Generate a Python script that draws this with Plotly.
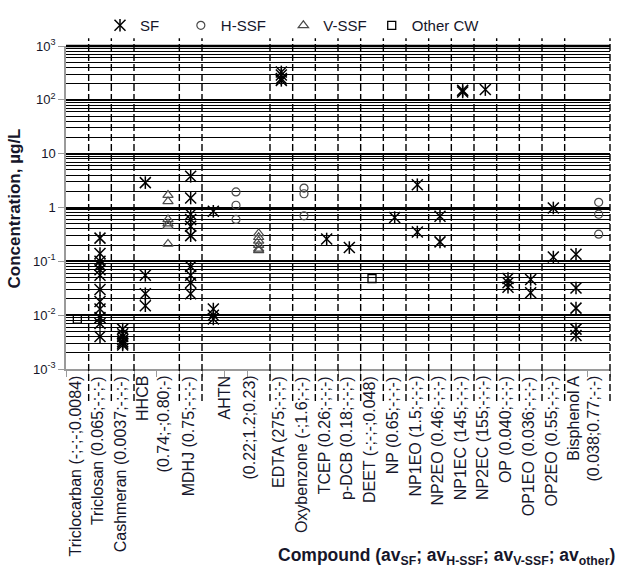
import plotly.graph_objects as go

# Compounds along the x axis, in display order
compounds = ["Triclocarban", "Triclosan", "Cashmeran", "HHCB", "MDHJ", "AHTN",
             "EDTA", "Oxybenzone", "TCEP", "p-DCB", "DEET", "NP", "NP1EO", "NP2EO",
             "NP1EC", "NP2EC", "OP", "OP1EO", "OP2EO", "Bisphenol A"]

# Axis label text for each compound: name and averages (SF; H-SSF; V-SSF; other)
label_lines = [
    ["Triclocarban (-;-;-;0.0084)"],
    ["Triclosan (0.065;-;-;-)"],
    ["Cashmeran (0.0037;-;-;-)"],
    ["HHCB", "(0.74;-;0.80;-)"],
    ["MDHJ (0.75;-;-;-)"],
    ["AHTN", "(0.22;1.2;0.23)"],
    ["EDTA (275;-;-;-)"],
    ["Oxybenzone (-;1.6;-;-)"],
    ["TCEP (0.26;-;-;-)"],
    ["p-DCB (0.18;-;-;-)"],
    ["DEET (-;-;-;0.048)"],
    ["NP (0.65;-;-;-)"],
    ["NP1EO (1.5;-;-;-)"],
    ["NP2EO (0.46;-;-;-)"],
    ["NP1EC (145;-;-;-)"],
    ["NP2EC (155;-;-;-)"],
    ["OP (0.040;-;-;-)"],
    ["OP1EO (0.036;-;-;-)"],
    ["OP2EO (0.55;-;-;-)"],
    ["Bisphenol A", "(0.038;0.77;-;-)"],
]

# Surface flow wetlands (µg/L)
sf_compound = (["Triclosan"] * 12 + ["Cashmeran"] * 7 + ["HHCB"] * 4 + ["MDHJ"] * 10
               + ["AHTN"] * 4 + ["EDTA"] * 4 + ["TCEP", "p-DCB", "NP"]
               + ["NP1EO"] * 2 + ["NP2EO"] * 2 + ["NP1EC"] * 2 + ["NP2EC"]
               + ["OP"] * 3 + ["OP1EO"] * 2 + ["OP2EO"] * 2 + ["Bisphenol A"] * 5)
sf_conc = ([0.27, 0.14, 0.10, 0.085, 0.07, 0.055, 0.03, 0.018, 0.013, 0.009, 0.007, 0.004]
           + [0.0055, 0.0045, 0.004, 0.0035, 0.0032, 0.003, 0.0028]
           + [2.9, 0.055, 0.025, 0.015]
           + [3.8, 1.5, 0.75, 0.6, 0.45, 0.30, 0.08, 0.055, 0.04, 0.025]
           + [0.85, 0.013, 0.01, 0.0085]
           + [330, 290, 250, 230]
           + [0.26, 0.18, 0.65]
           + [2.65, 0.35]
           + [0.69, 0.23]
           + [150, 140]
           + [155]
           + [0.048, 0.040, 0.033]
           + [0.046, 0.026]
           + [0.98, 0.12]
           + [0.135, 0.032, 0.0135, 0.0055, 0.0042])

# Horizontal subsurface flow wetlands (µg/L)
hssf_compound = ["AHTN"] * 3 + ["Oxybenzone"] * 3 + ["Bisphenol A"] * 3
hssf_conc = [1.95, 1.1, 0.6, 2.3, 1.8, 0.7, 1.25, 0.75, 0.32]

# Vertical subsurface flow wetlands (µg/L)
vssf_compound = ["HHCB"] * 6 + ["AHTN"] * 6
vssf_conc = [1.7, 1.3, 0.6, 0.5, 0.45, 0.21, 0.33, 0.28, 0.24, 0.20, 0.17, 0.16]

# Other constructed wetlands (µg/L)
other_compound = ["Triclocarban", "DEET"]
other_conc = [0.0084, 0.048]

y_tickvals = [1e-3, 1e-2, 1e-1, 1, 10, 1e2, 1e3]
y_ticktext = ["10<sup>-3</sup>", "10<sup>-2</sup>", "10<sup>-1</sup>", "1", "10",
              "10<sup>2</sup>", "10<sup>3</sup>"]

series = [
    ("SF", sf_compound, sf_conc),
    ("H-SSF", hssf_compound, hssf_conc),
    ("V-SSF", vssf_compound, vssf_conc),
    ("Other CW", other_compound, other_conc),
]

# One column slot per (compound, series) that has readings
slot_of, cat_start, cat_width = {}, {}, {}
n = 0
for c in compounds:
    cat_start[c] = n
    for name, comps, _ in series:
        if c in comps:
            slot_of[(c, name)] = n
            n += 1
    cat_width[c] = n - cat_start[c]
n_slots = n

FONT = "Arial, Liberation Sans, Helvetica, sans-serif"
INK = "#16162a"
NB = "\u00a0"

# page geometry (px)
W, H = 619, 574
ML, MR, MT, MB = 66, 9, 37, 205
PW, PH = W - ML - MR, H - MT - MB


def px_to_paper_y(py):
    return (H - MB - py) / PH


def px_to_paper_x(px):
    return (px - ML) / PW


def xs(name, comps):
    return [slot_of[(c, name)] + 0.5 for c in comps]


fig = go.Figure()

styles = {
    "SF": dict(symbol="x-thin-open", size=11, color="black", line=dict(width=1.5, color="black")),
    "H-SSF": dict(symbol="circle-open", size=8, color="#4a4a4a", line=dict(width=1.2, color="#4a4a4a")),
    "V-SSF": dict(symbol="triangle-up-open", size=9, color="#4a4a4a", line=dict(width=1.2, color="#4a4a4a")),
    "Other CW": dict(symbol="square-open", size=8, color="black", line=dict(width=1.3, color="black")),
}
# extra spacing after each legend entry
legend_pad = {"SF": 4, "H-SSF": 3, "V-SSF": 0, "Other CW": 0}

for name, comps, vals in series:
    fig.add_trace(go.Scatter(x=xs(name, comps), y=vals, mode="markers",
                             name=name + NB * legend_pad[name],
                             marker=styles[name], cliponaxis=False, legend="legend"))

# vertical stroke that turns the SF cross into an asterisk
fig.add_trace(go.Scatter(x=xs("SF", sf_compound), y=sf_conc, mode="markers", name=NB,
                         marker=dict(symbol="line-ns-open", size=9, color="black",
                                     line=dict(width=1.5, color="black")),
                         cliponaxis=False, legend="legend2"))

shapes = []
# dashed separators between compounds, running from above the frame into the label area
bounds = sorted(set(cat_start[c] + cat_width[c] for c in compounds))
for b in bounds:
    shapes.append(dict(type="line", xref="paper", yref="paper",
                       x0=b / n_slots, x1=b / n_slots,
                       y0=px_to_paper_y(402), y1=px_to_paper_y(29),
                       line=dict(color="black", width=1.4, dash="7px,3px"), layer="above"))
# heavy top frame line at 10^3
shapes.append(dict(type="line", xref="paper", yref="paper", x0=0, x1=1, y0=1, y1=1,
                   line=dict(color="black", width=2.6)))

annotations = []
label_offsets = {1: [0.4], 2: [0.38, 1.28], 3: [1.0, 2.1]}
for c, lines in zip(compounds, label_lines):
    offs = label_offsets[cat_width[c]] if len(lines) > 1 else [0.4]
    for txt, off in zip(lines, offs):
        annotations.append(dict(
            x=(cat_start[c] + off) / n_slots, y=px_to_paper_y(374),
            xref="paper", yref="paper", text=txt, textangle=-90,
            showarrow=False, xanchor="center", yanchor="top",
            font=dict(family=FONT, size=16, color=INK)))

annotations.append(dict(
    x=px_to_paper_x(617), y=px_to_paper_y(562), xref="paper", yref="paper",
    text="<b>Compound (av<sub>SF</sub>; av<sub>H-SSF</sub>; av<sub>V-SSF</sub>; av<sub>other</sub>)</b>",
    showarrow=False, xanchor="right", yanchor="middle",
    font=dict(family=FONT, size=17.5, color=INK)))
annotations.append(dict(
    x=px_to_paper_x(14), y=px_to_paper_y(204), xref="paper", yref="paper",
    text="<b>Concentration, µg/L</b>", textangle=-90,
    showarrow=False, xanchor="center", yanchor="middle",
    font=dict(family=FONT, size=17, color=INK)))

legend_common = dict(orientation="h", x=px_to_paper_x(100), y=px_to_paper_y(16),
                     xanchor="left", yanchor="middle", bgcolor="rgba(0,0,0,0)",
                     font=dict(family=FONT, size=15, color=INK), borderwidth=0)

fig.update_layout(
    width=W, height=H,
    margin=dict(l=ML, r=MR, t=MT, b=MB),
    paper_bgcolor="white", plot_bgcolor="white",
    showlegend=True,
    legend=legend_common,
    legend2=legend_common,
    xaxis=dict(range=[0, n_slots], tickvals=list(range(n_slots + 1)), showticklabels=False,
               ticks="outside", ticklen=6, tickcolor="#9a9a9a", tickwidth=1.2,
               showline=True, linecolor="#9a9a9a", linewidth=1.5,
               showgrid=False, zeroline=False, fixedrange=True),
    yaxis=dict(type="log", range=[-3, 3], tickvals=y_tickvals, ticktext=y_ticktext,
               ticks="outside", ticklen=6, tickcolor="#9a9a9a", tickwidth=1.2,
               showline=True, linecolor="#9a9a9a", linewidth=1.5,
               showgrid=True, gridcolor="black", gridwidth=2.4,
               minor=dict(dtick="D1", showgrid=True, gridcolor="black", gridwidth=1.3),
               tickfont=dict(family=FONT, size=13, color=INK), zeroline=False),
    shapes=shapes,
    annotations=annotations,
)

fig.write_html("out.html")
